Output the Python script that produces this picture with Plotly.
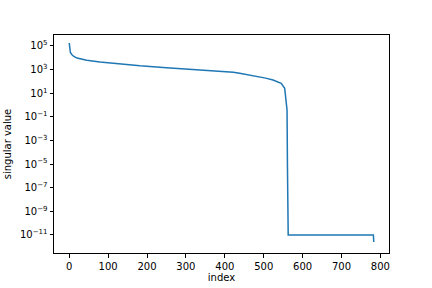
import plotly.graph_objects as go

# Singular values (index -> value)
index = [0, 1, 3, 7, 12, 20, 30, 45, 79, 114, 148, 182, 250, 319, 350, 387, 405, 422, 438,
         465, 490, 505, 524, 535, 545, 554, 557, 560, 561, 562, 563, 600, 700, 782, 783]
values = [1.78e5, 3.98e4, 2.8e4, 1.82e4, 1.3e4, 9.5e3, 7.9e3, 6.2e3, 4.4e3, 3.4e3,
          2.6e3, 2.1e3, 1.45e3, 1.07e3, 920, 760, 680, 590, 490,
          350, 251, 190, 132, 100, 69, 26, 5.0, 0.38, 1e-5, 1.1e-11, 1e-11, 1e-11, 1e-11, 1e-11, 2.5e-12]

ytick_vals = [1e5, 1e3, 1e1, 1e-1, 1e-3, 1e-5, 1e-7, 1e-9, 1e-11]
ytick_text = ["10<sup>5</sup>", "10<sup>3</sup>", "10<sup>1</sup>", "10<sup>\u22121</sup>",
              "10<sup>\u22123</sup>", "10<sup>\u22125</sup>", "10<sup>\u22127</sup>",
              "10<sup>\u22129</sup>", "10<sup>\u221211</sup>"]
xtick_vals = [0, 100, 200, 300, 400, 500, 600, 700, 800]

fig = go.Figure()
fig.add_trace(go.Scatter(x=index, y=values, mode="lines",
                         line=dict(color="#1f77b4", width=1.5)))

axis_common = dict(showline=True, linecolor="black", linewidth=1, mirror=True,
                   ticks="outside", ticklen=3.5, tickwidth=1, tickcolor="black",
                   showgrid=False, zeroline=False, automargin=False,
                   tickfont=dict(family="DejaVu Sans", size=10, color="black"))

fig.update_layout(
    width=432, height=288,
    margin=dict(l=54, r=43, t=35, b=35),
    paper_bgcolor="white", plot_bgcolor="white",
    showlegend=False,
    font=dict(family="DejaVu Sans", size=10, color="black"),
    xaxis=dict(range=[-39.15, 822.15], tickvals=xtick_vals,
               title=dict(text="index", font=dict(size=10), standoff=3),
               **axis_common),
    yaxis=dict(type="log", range=[-12.53, 5.93], tickvals=ytick_vals, ticktext=ytick_text,
               title=dict(text="singular value", font=dict(size=10), standoff=6),
               **axis_common),
)

fig.write_html("out.html")
